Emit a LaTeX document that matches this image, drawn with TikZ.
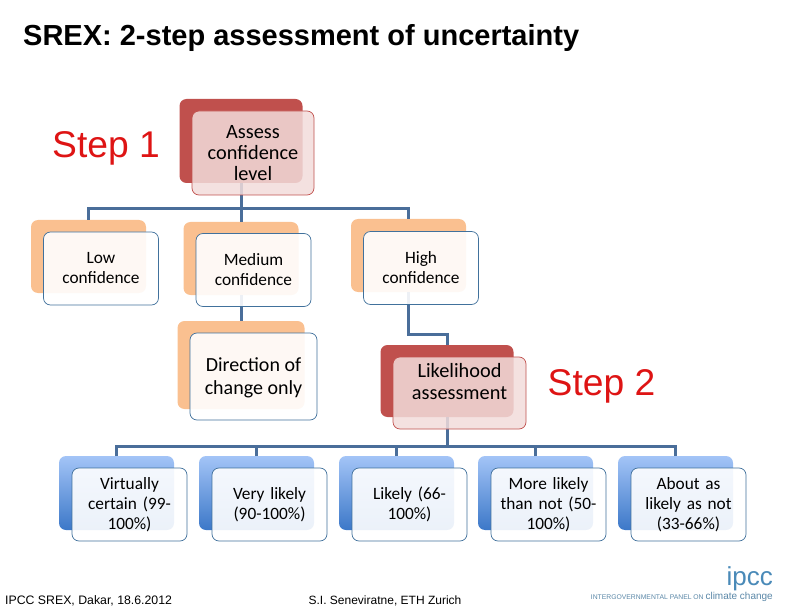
\documentclass[tikz,border=0pt]{standalone}
\usepackage{fontspec}
\setmainfont{Carlito}
\newfontfamily\arialf{Liberation Sans}
\definecolor{conn}{HTML}{4A6E9A}
\definecolor{redb}{HTML}{C0504D}
\definecolor{redf}{HTML}{F2DCDB}
\definecolor{orab}{HTML}{FAC090}
\definecolor{edgeb}{HTML}{41719C}
\definecolor{stepred}{HTML}{DE1414}
\definecolor{logob}{HTML}{4A8AB8}
\definecolor{bluet}{HTML}{A3C4F7}
\definecolor{blub}{HTML}{3C78C8}
\tikzset{
  x=1pt,y=-1pt,
  conline/.style={draw=conn,line width=3pt},
  boxbase/.style={rectangle,rounded corners=7pt,inner sep=0pt,outer sep=0pt},
  redback/.style={boxbase,fill=redb},
  redfront/.style={boxbase,draw=redb,line width=.7pt,fill=redf,fill opacity=.85,text opacity=1,align=center},
  oraback/.style={boxbase,fill=orab},
  wfront/.style={boxbase,draw=edgeb,line width=.7pt,fill=white,fill opacity=.9,text opacity=1,align=center},
  sz17/.style={font=\fontsize{17.3}{20}\selectfont},
  sz20/.style={font=\fontsize{20.3}{21}\selectfont},
  dirtext/.style={font=\fontsize{20}{22.8}\selectfont,align=center,inner sep=0pt},
  liktext/.style={font=\fontsize{20.3}{22}\selectfont,align=center,inner sep=0pt},
  stepl/.style={font=\arialf\fontsize{37.2}{40}\selectfont,text=stepred,inner sep=0pt},
  foot/.style={font=\arialf\fontsize{12}{14}\selectfont,inner sep=0pt},
  lowb/.style={boxbase,minimum width=115pt,minimum height=74pt,top color=bluet,bottom color=blub},
  midb/.style={oraback,minimum width=115pt,minimum height=73pt},
  smallf/.style={wfront,sz17,minimum width=115pt,minimum height=73pt,text width=108pt}
}
\begin{document}
\begin{tikzpicture}
\useasboundingbox (0,0) rectangle (792,612);
% back shapes
\path
 (241,141) node[redback,minimum width=123pt,minimum height=84pt] (ab) {}
 (88.5,256.5) node[midb] (lb) {}
 (241,258.5) node[midb] (mb) {}
 (408.5,255.5) node[midb] (hb) {}
 (241,365) node[oraback,minimum width=127pt,minimum height=88pt] (db) {}
 (447,381) node[redback,minimum width=133pt,minimum height=72pt] (pb) {}
 (116.5,493) node[lowb] (vb) {}
 (256.5,493) node[lowb] (yb) {}
 (396.5,493) node[lowb] (kb) {}
 (535.5,493) node[lowb] (rb) {}
 (675.5,493) node[lowb] (ub) {};
\coordinate (j1) at (ab.south |- 0,209);
\coordinate (j2) at (pb.south |- 0,446);
\coordinate (j3) at (hb.south |- 0,334);
% connectors
\draw[conline] (ab.south) -- (j1);
\draw[conline] (lb.north) -- (lb.north |- j1) -- (hb.north |- j1) -- (hb.north);
\draw[conline] (j1) -- (mb.north);
\draw[conline] (mb.south) -- (db.north);
\draw[conline] (hb.south) -- (j3) -- (j3 -| pb.north) -- (pb.north);
\draw[conline] (pb.south) -- (j2);
\draw[conline] (vb.north) -- (vb.north |- j2) -- (ub.north |- j2) -- (ub.north);
\draw[conline] (yb.north) -- (yb.north |- j2);
\draw[conline] (kb.north) -- (kb.north |- j2);
\draw[conline] (rb.north) -- (rb.north |- j2);
% front shapes
\node[redfront,sz20,minimum width=122pt,minimum height=84pt,text width=110pt] (af) at (253,153) {Assess\\confidence\\level};
\node[smallf] (lf) at (101,268.5) {Low\\confidence};
\node[smallf] (mf) at (253.5,270) {Medium\\confidence};
\node[smallf] (hf) at (421,268) {High\\confidence};
\node[wfront,minimum width=127pt,minimum height=87pt] (df) at (253.5,376.5) {};
\node[redfront,minimum width=133pt,minimum height=72pt] (pf) at (459.5,393) {};
\node[dirtext] (dt) at (253.5,378) {Direction of\\change only};
\node[liktext] (pt) at (459.5,381.5) {Likelihood\\assessment};
\node[smallf] (vf) at (129.5,504.5) {Virtually\\certain (99-\\100\%)};
\node[smallf] (yf) at (269.5,504.5) {Very likely\\(90-100\%)};
\node[smallf] (kf) at (409.5,504.5) {Likely (66-\\100\%)};
\node[smallf] (rf) at (548.5,504.5) {More likely\\than not (50-\\100\%)};
\node[smallf] (uf) at (688.5,504.5) {About as\\likely as not\\(33-66\%)};
% free text
\node[anchor=west,inner sep=0pt,font=\arialf\bfseries\fontsize{29}{32}\selectfont] (title) at (23,38) {SREX: 2-step assessment of uncertainty};
\node[stepl,anchor=center] (s1) at (106,148) {Step 1};
\node[stepl,anchor=center] (s2) at (601.5,386) {Step 2};
\node[foot,anchor=west,font=\arialf\fontsize{12.3}{14}\selectfont] (f1) at (5,601) {IPCC SREX, Dakar, 18.6.2012};
\node[foot,anchor=center] (f2) at (385,601) {S.I. Seneviratne, ETH Zurich};
\node[anchor=east,inner sep=0pt,text=logob,font=\arialf\fontsize{26}{28}\selectfont] (lg) at (773,579) {ipcc};
\node[anchor=east,inner sep=0pt,text=logob!70!gray,font=\arialf\fontsize{6.8}{8}\selectfont] (lt) at (773,597) {INTERGOVERNMENTAL PANEL ON \fontsize{10}{10}\selectfont climate change};
\end{tikzpicture}
\end{document}
